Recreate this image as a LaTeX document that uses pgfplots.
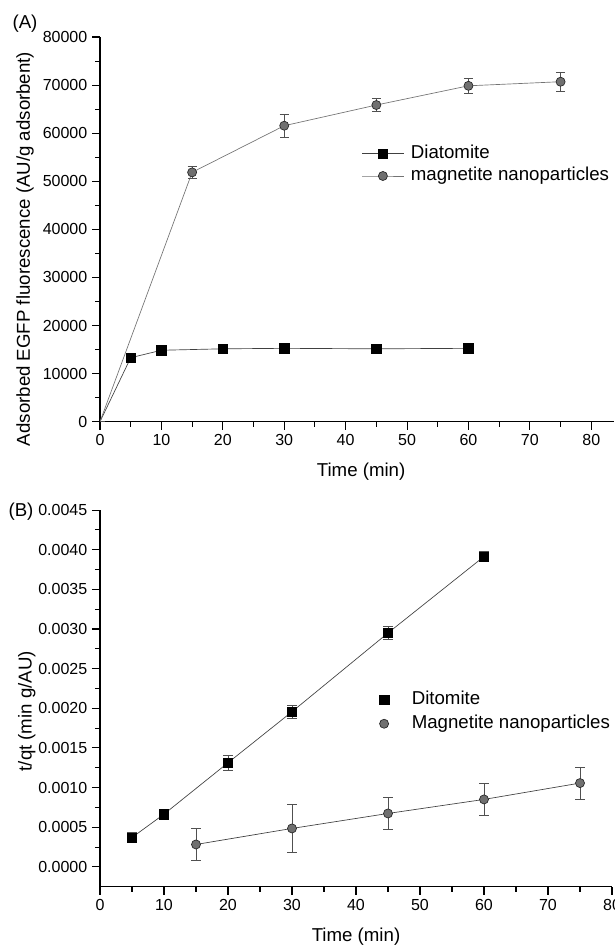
\documentclass[border=0pt]{standalone}
\usepackage{fontspec}
\setmainfont{Liberation Sans}
\usepackage{pgfplots}
\pgfplotsset{compat=1.18}
\definecolor{markgray}{RGB}{112,112,112}
\definecolor{errgray}{RGB}{80,80,80}

\pgfplotsset{
  originstyle/.style={
    scale only axis,
    axis lines=left,
    axis line style={-, line width=0.8pt},
    tick align=outside,
    major tick length=6pt,
    minor tick length=3.75pt,
    every tick/.style={black, line width=0.8pt},
    minor x tick num=1,
    minor y tick num=1,
    tick label style={font=\fontsize{12}{14}\selectfont},
    label style={font=\fontsize{14}{16}\selectfont},
    /pgf/number format/assume math mode=true,
    /pgf/number format/1000 sep={},
    legend style={draw=none, fill=none, inner sep=0pt,
      font=\fontsize{14}{16}\selectfont, column sep=5.25pt,
      nodes={inner sep=0pt, text height=10.5pt, text depth=3pt}},
    legend cell align=left,
  },
  legline/.style={legend image code/.code={\draw[##1, mark indices={2}]
      plot coordinates {(0pt,0pt) (15.5pt,0pt) (31pt,0pt)};}},
  legmark/.style={legend image code/.code={\path[##1, mark indices={2}]
      plot coordinates {(0pt,0pt) (15.5pt,0pt) (31pt,0pt)};}},
  sqmark/.style={mark=square*, mark size=3.5pt, mark options={fill=black, draw=black}},
  cimark/.style={mark=*, mark size=3.4pt, mark options={fill=markgray, draw=black!85, line width=0.5pt}},
  errs/.style={error bars/.cd, y dir=both, y explicit,
    error bar style={draw=errgray, line width=0.6pt},
    error mark options={rotate=90, draw=errgray, mark size=3.4pt, line width=0.6pt}},
}

\begin{document}
\begin{tikzpicture}
\useasboundingbox (0,0) rectangle (460.5pt,708.75pt);

% panel A
\begin{axis}[originstyle,
  at={(75pt,392.5pt)}, anchor=south west,
  width=385.5pt, height=288.5pt,
  xmin=0, xmax=83.7, ymin=0, ymax=80000,
  xtick={0,10,...,80},
  ytick={0,10000,20000,30000,40000,50000,60000,70000,80000},
  scaled y ticks=false,
  xlabel={Time (min)},
  ylabel={Adsorbed EGFP fluorescence (AU/g adsorbent)},
  x label style={at={(axis description cs:0.508,-0.13)}, anchor=center},
  y label style={at={(axis description cs:-0.146,0.449)}, anchor=center},
  legend style={at={(axis description cs:0.509,0.721)}, anchor=north west, row sep=3.3pt},
]
\addplot[black!75, line width=0.5pt, sqmark, mark indices={2,3,4,5,6,7}, legline]
  coordinates {(0,0) (5,13300) (10,14850) (20,15150) (30,15250) (45,15150) (60,15250)};
\addlegendentry{Diatomite}
\addplot[black!55, line width=0.5pt, cimark, mark indices={2,3,4,5,6}, legline, errs]
  coordinates {(0,0) +- (0,0) (15,51850) +- (0,1250) (30,61550) +- (0,2350)
    (45,65850) +- (0,1400) (60,69850) +- (0,1600) (75,70700) +- (0,2000)};
\addlegendentry{magnetite nanoparticles}
\end{axis}

% panel B
\begin{axis}[originstyle,
  at={(75pt,43.7pt)}, anchor=south west,
  width=384pt, height=282.5pt,
  xmin=0, xmax=80, ymin=-0.00025, ymax=0.0045,
  xtick={0,10,...,80},
  ytick={0,0.0005,0.001,0.0015,0.002,0.0025,0.003,0.0035,0.004,0.0045},
  scaled y ticks=false,
  yticklabel style={/pgf/number format/.cd, fixed, fixed zerofill, precision=4},
  xlabel={Time (min)},
  ylabel={t/qt (min g/AU)},
  x label style={at={(axis description cs:0.5,-0.133)}, anchor=center},
  y label style={at={(axis description cs:-0.143,0.466)}, anchor=center},
  legend style={at={(axis description cs:0.514,0.521)}, anchor=north west, row sep=4.5pt},
]
\addplot[black!75, line width=0.5pt, forget plot]
  coordinates {(5,0.000371) (10,0.000665) (20,0.001313) (30,0.001957) (45,0.00295) (60,0.003914)};
\addplot[black!75, line width=0.5pt, forget plot]
  coordinates {(15,0.000283) (30,0.000485) (45,0.000674) (60,0.000851) (75,0.001057)};
\addplot[draw=none, sqmark, legmark, errs]
  coordinates {(5,0.000371) +- (0,0.00006) (10,0.000665) +- (0,0.00005)
    (20,0.001313) +- (0,0.00009) (30,0.001957) +- (0,0.00008)
    (45,0.00295) +- (0,0.00008) (60,0.003914) +- (0,0.00006)};
\addlegendentry{Ditomite}
\addplot[draw=none, cimark, legmark, errs]
  coordinates {(15,0.000283) +- (0,0.0002) (30,0.000485) +- (0,0.000305)
    (45,0.000674) +- (0,0.0002) (60,0.000851) +- (0,0.0002) (75,0.001057) +- (0,0.0002)};
\addlegendentry{Magnetite nanoparticles}
\end{axis}

\node[font=\fontsize{14}{16}\selectfont] at (18.75pt,691pt) {(A)};
\node[font=\fontsize{14}{16}\selectfont] at (15.75pt,324.75pt) {(B)};
\end{tikzpicture}
\end{document}
